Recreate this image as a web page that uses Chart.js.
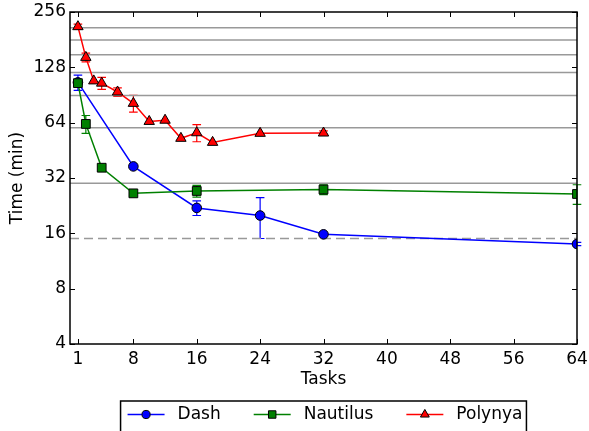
<!DOCTYPE html>
<html>
<head>
<meta charset="utf-8">
<script src="https://cdn.jsdelivr.net/npm/chart.js@4.4.0/dist/chart.umd.min.js"></script>
<style>
    html, body { margin: 0; padding: 0; background: #fff; }
    #wrap { width: 589px; height: 431px; }
</style>
</head>
<body>
<div id="wrap"><canvas id="time-chart" width="589" height="431"></canvas></div>
<script>
// Run time vs number of tasks, three schedulers
const xTicks = [1, 8, 16, 24, 32, 40, 48, 56, 64];
const yTicks = [4, 8, 16, 32, 64, 128, 256];

const dashTasks = [1, 8, 16, 24, 32, 64];
const dashTime = [106, 37, 22, 20, 15.8, 14];
const dashErr = [10, 0, 2, 5, 0.3, 0.3];

const nautilusTasks = [1, 2, 4, 8, 16, 32, 64];
const nautilusTime = [105, 63, 36.4, 26.4, 27.2, 27.7, 26.2];
const nautilusErr = [3, 7, 0, 0, 2, 1.7, 3.2];

const polynyaTasks = [1, 2, 3, 4, 6, 8, 10, 12, 14, 16, 18, 24, 32];
const polynyaTime = [213, 145, 108, 105, 94, 81.5, 65, 66, 52.6, 56.4, 50, 56, 56.2];
const polynyaErr = [7, 8, 0, 8, 5, 8.5, 0, 0, 0, 6, 0, 0, 1.5];

// horizontal reference levels (minutes)
const refLines = [30, 60, 90, 120, 150, 180, 210];
const baseline = 15;

Chart.defaults.font.family = 'DejaVu Sans';
Chart.defaults.font.size = 17;
Chart.defaults.color = '#000';

function toPoints(xs, ys) {
    return xs.map((x, i) => ({ x: x, y: ys[i] }));
}

const series = [
    { label: 'Dash', tasks: dashTasks, time: dashTime, err: dashErr, color: '#0000ff', style: 'circle', radius: 4.8, order: 3 },
    { label: 'Nautilus', tasks: nautilusTasks, time: nautilusTime, err: nautilusErr, color: '#008000', style: 'rect', radius: 6.2, order: 2 },
    { label: 'Polynya', tasks: polynyaTasks, time: polynyaTime, err: polynyaErr, color: '#ff0000', style: 'triangle', radius: 6, order: 1 }
];

const datasets = series.map(s => ({
    label: s.label,
    data: toPoints(s.tasks, s.time),
    errors: s.err,
    borderColor: s.color,
    backgroundColor: s.color,
    borderWidth: 1.5,
    pointStyle: s.style,
    pointRadius: s.radius,
    pointBackgroundColor: s.color,
    pointBorderColor: '#000',
    pointBorderWidth: 1,
    tension: 0,
    order: s.order
}));

refLines.forEach(v => {
    datasets.push({
        label: 'ref' + v,
        data: [{ x: 0, y: v }, { x: 64, y: v }],
        borderColor: '#999999',
        borderWidth: 1.5,
        pointRadius: 0,
        order: 10
    });
});
datasets.push({
    label: 'baseline',
    data: [{ x: 0, y: baseline }, { x: 64, y: baseline }],
    borderColor: '#999999',
    borderWidth: 1.5,
    borderDash: [9, 5],
    pointRadius: 0,
    order: 10
});

// error bars with caps
const errorBars = {
    id: 'errorBars',
    beforeDatasetsDraw(chart) {
        const ctx = chart.ctx;
        const y = chart.scales.y;
        ctx.save();
        chart.data.datasets.forEach((ds, di) => {
            if (!ds.errors) return;
            const meta = chart.getDatasetMeta(di);
            ctx.strokeStyle = ds.borderColor;
            ctx.lineWidth = 1.2;
            ds.data.forEach((p, i) => {
                const e = ds.errors[i];
                if (!e) return;
                const px = meta.data[i].x;
                const top = y.getPixelForValue(p.y + e);
                const bot = y.getPixelForValue(p.y - e);
                ctx.beginPath();
                ctx.moveTo(px, top); ctx.lineTo(px, bot);
                ctx.moveTo(px - 4.3, top); ctx.lineTo(px + 4.3, top);
                ctx.moveTo(px - 4.3, bot); ctx.lineTo(px + 4.3, bot);
                ctx.stroke();
            });
        });
        ctx.restore();
    }
};

// box around plot with inward ticks on all sides
const frame = {
    id: 'frame',
    afterDatasetsDraw(chart) {
        const { ctx, chartArea: a, scales: { x, y } } = chart;
        ctx.save();
        ctx.strokeStyle = '#000';
        ctx.lineWidth = 1;
        ctx.beginPath();
        xTicks.forEach(t => {
            const px = Math.round(x.getPixelForValue(t)) + 0.5;
            ctx.moveTo(px, a.bottom); ctx.lineTo(px, a.bottom - 5);
            ctx.moveTo(px, a.top); ctx.lineTo(px, a.top + 5);
        });
        yTicks.forEach(t => {
            const py = Math.round(y.getPixelForValue(t)) + 0.5;
            ctx.moveTo(a.left, py); ctx.lineTo(a.left + 5, py);
            ctx.moveTo(a.right, py); ctx.lineTo(a.right - 5, py);
        });
        ctx.stroke();
        ctx.lineWidth = 1.5;
        ctx.strokeRect(a.left, a.top, a.right - a.left, a.bottom - a.top);
        ctx.restore();
    }
};

function drawMarker(ctx, style, r, x, y) {
    ctx.beginPath();
    if (style === 'circle') {
        ctx.arc(x, y, r, 0, Math.PI * 2);
    } else if (style === 'rect') {
        const h = r * Math.SQRT1_2;
        ctx.rect(x - h, y - h, 2 * h, 2 * h);
    } else {
        ctx.moveTo(x, y - r);
        ctx.lineTo(x + 0.866 * r, y + 0.5 * r);
        ctx.lineTo(x - 0.866 * r, y + 0.5 * r);
        ctx.closePath();
    }
    ctx.fill();
    ctx.stroke();
}

// matplotlib-like boxed legend under the axis
const boxLegend = {
    id: 'boxLegend',
    afterDraw(chart) {
        const { ctx, chartArea: a } = chart;
        const lineLen = 37, textGap = 13, itemGap = 33, padL = 7, padR = 4;
        ctx.save();
        ctx.font = '17px "DejaVu Sans"';
        const widths = series.map(s => ctx.measureText(s.label).width);
        let total = padL + padR;
        widths.forEach((w, i) => { total += lineLen + textGap + w + (i ? itemGap : 0); });
        const left = (a.left + a.right) / 2 - total / 2;
        const top = 401, cy = 414.5;
        ctx.strokeStyle = '#000';
        ctx.lineWidth = 1.5;
        ctx.strokeRect(left, top, total, 40);
        let cx = left + padL;
        series.forEach((s, i) => {
            ctx.strokeStyle = s.color;
            ctx.lineWidth = 1.5;
            ctx.beginPath();
            ctx.moveTo(cx, cy); ctx.lineTo(cx + lineLen, cy);
            ctx.stroke();
            ctx.fillStyle = s.color;
            ctx.strokeStyle = '#000';
            ctx.lineWidth = 1;
            drawMarker(ctx, s.style, s.radius * 0.85, cx + lineLen / 2, cy);
            ctx.fillStyle = '#000';
            ctx.textBaseline = 'middle';
            ctx.fillText(s.label, cx + lineLen + textGap, cy);
            cx += lineLen + textGap + widths[i] + itemGap;
        });
        ctx.restore();
    }
};

new Chart(document.getElementById('time-chart'), {
    type: 'line',
    data: { datasets: datasets },
    plugins: [errorBars, frame, boxLegend],
    options: {
        responsive: false,
        animation: false,
        devicePixelRatio: 1,
        layout: { padding: { top: 12, right: 12, left: 0, bottom: 30 } },
        plugins: {
            legend: { display: false },
            tooltip: { enabled: false }
        },
        scales: {
            x: {
                type: 'linear',
                min: 0,
                max: 64,
                afterBuildTicks: scale => { scale.ticks = xTicks.map(v => ({ value: v })); },
                afterFit: scale => {
                    scale.height = 57;
                    scale.paddingLeft = 0;
                    scale.paddingRight = 0;
                },
                ticks: { autoSkip: false, maxRotation: 0, padding: 5, callback: v => String(v) },
                grid: { display: false, drawTicks: false },
                border: { display: false },
                title: { display: true, text: 'Tasks', padding: { top: 0, bottom: 11 } }
            },
            y: {
                type: 'logarithmic',
                min: 4,
                max: 256,
                afterBuildTicks: scale => { scale.ticks = yTicks.map(v => ({ value: v })); },
                afterFit: scale => {
                    scale.width = 70;
                    scale.paddingTop = 0;
                    scale.paddingBottom = 0;
                },
                ticks: { autoSkip: false, padding: 4, callback: v => String(v) },
                grid: { display: false, drawTicks: false },
                border: { display: false },
                title: { display: true, text: 'Time (min)', padding: { top: 7.5, bottom: 0 } }
            }
        }
    }
});
</script>
</body>
</html>
